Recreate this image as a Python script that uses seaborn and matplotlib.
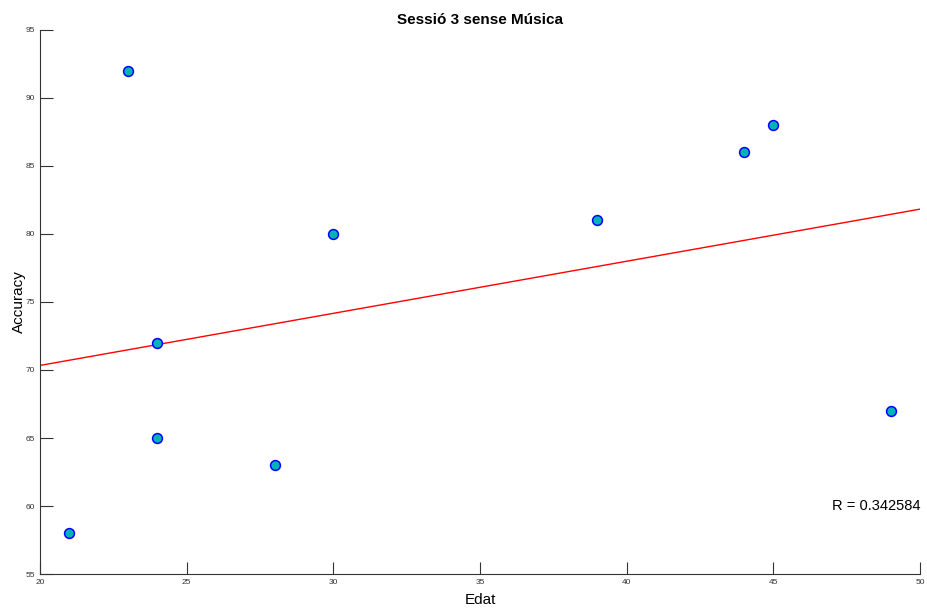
import numpy as np
import pandas as pd
import matplotlib
matplotlib.use('Agg')
import matplotlib.pyplot as plt
import seaborn as sns

sns.set_style('ticks')
plt.rcParams['font.family'] = ['Liberation Sans', 'DejaVu Sans']
plt.rcParams['text.color'] = 'black'
plt.rcParams['axes.labelcolor'] = 'black'

edat = [21, 23, 24, 24, 28, 30, 39, 44, 45, 49]
accuracy = [58, 92, 72, 65, 63, 80, 81, 86, 88, 67]

df = pd.DataFrame({'Edat': edat, 'Accuracy': accuracy})
r = np.corrcoef(df['Edat'], df['Accuracy'])[0, 1]

fig = plt.figure(figsize=(9.27, 6.08), dpi=100)
ax = fig.add_axes([0.0431, 0.0559, 0.9494, 0.8948])
ax.set_xlim(20, 50)
ax.set_ylim(55, 95)

sns.regplot(data=df, x='Edat', y='Accuracy', ax=ax, ci=None, truncate=False,
            scatter_kws=dict(s=50, color='#00B4B4', edgecolors='#0000FF',
                             linewidths=1.1, alpha=1, zorder=3),
            line_kws=dict(color='#FF0000', lw=1))

ax.set_xlim(20, 50)
ax.set_ylim(55, 95)
ax.set_xticks(range(20, 51, 5))
ax.set_yticks(range(55, 96, 5))
ax.tick_params(direction='in', length=9, width=0.8, labelsize=6,
               labelcolor='#333333', color='#333333')
for s in ['top', 'right']:
    ax.spines[s].set_visible(False)
for s in ['left', 'bottom']:
    ax.spines[s].set_color('#333333')
    ax.spines[s].set_linewidth(0.8)

ax.set_xlabel('Edat', fontsize=11, labelpad=5)
ax.set_ylabel('Accuracy', fontsize=11, labelpad=0)
ax.set_title('Sessió 3 sense Música', fontsize=11, fontweight='bold', pad=4)
ax.text(47, 60, 'R = %.6f' % r, fontsize=10.5, va='center', ha='left')

fig.savefig('out.png', dpi=100)
